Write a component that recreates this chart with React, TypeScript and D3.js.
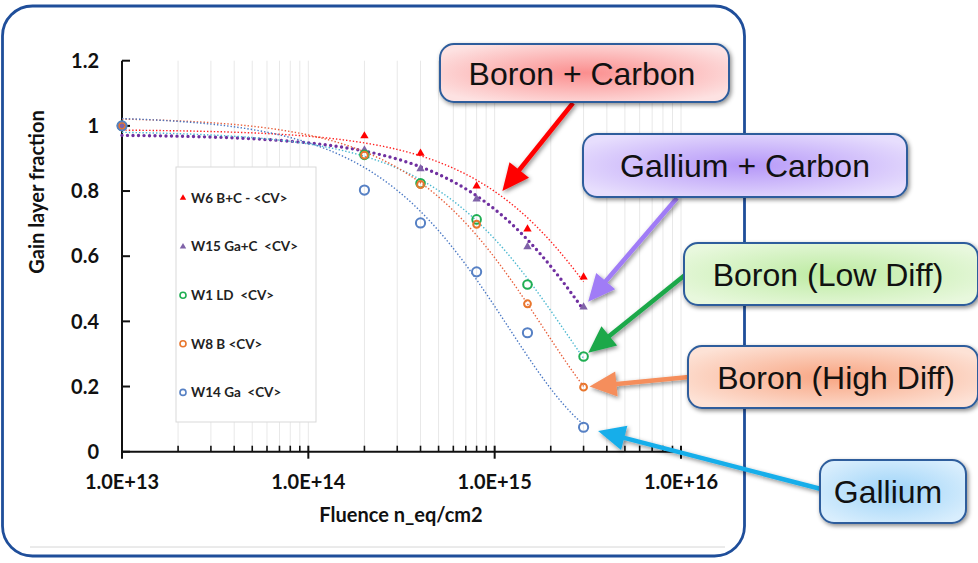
import React from "react";
import * as d3 from "d3";

// fluence points (n_eq/cm2)
const fluence = [1e13, 2e14, 4e14, 8e14, 1.5e15, 3e15];

const w6BC = [1.0, 0.969, 0.916, 0.815, 0.683, 0.536];
const w15GaC = [1.0, 0.926, 0.868, 0.775, 0.629, 0.444];
const w1LD = [1.0, 0.911, 0.824, 0.713, 0.513, 0.292];
const w8B = [1.0, 0.91, 0.82, 0.698, 0.454, 0.198];
const w14Ga = [1.0, 0.803, 0.702, 0.552, 0.365, 0.075];

const yTicks = [0, 0.2, 0.4, 0.6, 0.8, 1, 1.2];
const yTickLabels = ["0", "0.2", "0.4", "0.6", "0.8", "1", "1.2"];
const xMajor = [1e13, 1e14, 1e15, 1e16];
const xTickLabels = ["1.0E+13", "1.0E+14", "1.0E+15", "1.0E+16"];

const series = [
  { name: "W6 B+C - <CV>", values: w6BC, marker: "tri", color: "#ff0000", lineColor: "#ff2020", thick: false, r: 0 },
  { name: "W15 Ga+C  <CV>", values: w15GaC, marker: "tri", color: "#7f62a8", lineColor: "#7030a0", thick: true, r: 0 },
  { name: "W1 LD  <CV>", values: w1LD, marker: "circle", color: "#1fae52", lineColor: "#4bb8d0", thick: false, r: 4.3 },
  { name: "W8 B <CV>", values: w8B, marker: "circle", color: "#e8762d", lineColor: "#e8603c", thick: false, r: 3.4 },
  { name: "W14 Ga  <CV>", values: w14Ga, marker: "circle", color: "#5680c4", lineColor: "#4a78c4", thick: false, r: 4.6 },
];

// callouts: label, target (data coords), gap before target
const callouts = [
  { label: "Boron + Carbon", box: [440, 44, 289, 58], tx: 582, start: [573, 103], target: [1.1e15, 0.8], gap: 0, fill: ["#fb8e8e", "#fde2e2"], arrow: "#ff0000" },
  { label: "Gallium + Carbon", box: [583, 134, 324, 63], tx: 745, start: [677, 198], target: [3e15, w15GaC[5]], gap: 7, fill: ["#b597f8", "#e7defd"], arrow: "#a07cf6" },
  { label: "Boron (Low Diff)", box: [684, 243, 294, 62], tx: 828, start: [685, 275], target: [3e15, w1LD[5]], gap: 6, fill: ["#bdeba2", "#e8f8dd"], arrow: "#1aa84a" },
  { label: "Boron (High Diff)", box: [688, 346, 290, 62], tx: 836, start: [689, 377], target: [3e15, w8B[5]], gap: 6, fill: ["#f8a582", "#fde2d6"], arrow: "#f58e5c" },
  { label: "Gallium", box: [820, 460, 146, 63], tx: 888, start: [821, 489], target: [3e15, w14Ga[5]], gap: 15, fill: ["#9cd3f8", "#d9eefd"], arrow: "#19aeea" },
];

function expFit(xs: number[], ys: number[]) {
  const X = xs.map((x) => x / 1e15);
  const L = ys.map((y) => Math.log(y));
  const mx = d3.mean(X)!;
  const ml = d3.mean(L)!;
  const sxy = d3.sum(X, (x, i) => (x - mx) * (L[i] - ml));
  const sxx = d3.sum(X, (x) => (x - mx) * (x - mx));
  const b = sxy / sxx;
  const a = Math.exp(ml - b * mx);
  return (x: number) => a * Math.exp((b * x) / 1e15);
}

const FONT = "Lato, 'Open Sans', sans-serif";

export default function App() {
  const W = 978;
  const H = 563;
  const x = d3.scaleLog().domain([1e13, 1e16]).range([122, 681]);
  const y = d3.scaleLinear().domain([0, 1.2]).range([451.7, 60.7]);

  const minor: number[] = [];
  [1e13, 1e14, 1e15].forEach((d) => {
    for (let k = 2; k <= 9; k++) minor.push(d * k);
  });
  const grid = minor.concat([1e14, 1e15, 1e16]);

  const lx0 = Math.log10(fluence[0]);
  const lx1 = Math.log10(fluence[fluence.length - 1]);
  const samples = d3.range(0, 241).map((i) => Math.pow(10, lx0 + ((lx1 - lx0) * i) / 240));
  const line = d3
    .line<number[]>()
    .x((d) => x(d[0]))
    .y((d) => y(d[1]));

  const tri = d3.symbol(d3.symbolTriangle, 30)();
  const triSmall = d3.symbol(d3.symbolTriangle, 18)();

  const marker = (s: any, cx: number, cy: number, legend = false) => {
    if (s.marker === "tri") {
      return <path d={legend ? triSmall : tri} transform={`translate(${cx},${cy})`} fill={s.color} />;
    }
    return <circle cx={cx} cy={cy} r={legend ? 3 : s.r} fill="none" stroke={s.color} strokeWidth={legend ? 1.6 : 2} />;
  };

  return (
    <svg width={W} height={H} style={{ position: "fixed", left: 0, top: 0 }} fontFamily={FONT}>
      <defs>
        <filter id="sh" x="-20%" y="-20%" width="140%" height="150%">
          <feDropShadow dx="1.5" dy="2" stdDeviation="2.2" floodColor="#000" floodOpacity="0.45" />
        </filter>
        {callouts.map((c, i) => (
          <radialGradient key={i} id={`g${i}`} cx="50%" cy="50%" r="60%">
            <stop offset="0%" stopColor={c.fill[0]} />
            <stop offset="100%" stopColor={c.fill[1]} />
          </radialGradient>
        ))}
      </defs>
      <rect width={W} height={H} fill="#fff" />

      {/* outer frame */}
      <line x1={30} x2={725} y1={547} y2={547} stroke="#d6d6d6" strokeWidth={1} />
      <rect x={2.5} y={6} width={742} height={550} rx={30} fill="none" stroke="#1f4e9a" strokeWidth={2.8} />

      {/* gridlines */}
      {grid.map((g, i) => (
        <line key={i} x1={x(g)} x2={x(g)} y1={y(1.2)} y2={y(0)} stroke="#e8e8e8" strokeWidth={1} />
      ))}

      {/* legend */}
      <rect x={176} y={167} width={140} height={255} fill="#fff" stroke="#d9d9d9" strokeWidth={1} />
      {series.map((s, i) => {
        const ly = 198 + i * 48.6;
        return (
          <g key={i}>
            {marker(s, 183, ly, true)}
            <text x={191} y={ly} dy="0.36em" fontSize={13.5} fontWeight={700} fill="#222" style={{ whiteSpace: "pre" }}>
              {s.name}
            </text>
          </g>
        );
      })}

      {/* axes */}
      <line x1={x(1e13)} x2={x(1e13)} y1={y(1.2)} y2={y(0) + 6} stroke="#111" strokeWidth={2} />
      <line x1={x(1e13)} x2={x(1e16)} y1={y(0)} y2={y(0)} stroke="#111" strokeWidth={2} />
      {yTicks.map((t, i) => (
        <g key={i}>
          <line x1={x(1e13)} x2={x(1e13) + 8} y1={y(t)} y2={y(t)} stroke="#111" strokeWidth={2} />
          <text x={99} y={y(t)} dy="0.36em" textAnchor="end" fontSize={20} fontWeight={700} fill="#111">
            {yTickLabels[i]}
          </text>
        </g>
      ))}
      {minor.map((m, i) => (
        <line key={i} x1={x(m)} x2={x(m)} y1={y(0) - 6} y2={y(0)} stroke="#111" strokeWidth={1.6} />
      ))}
      {xMajor.map((m, i) => (
        <g key={i}>
          <line x1={x(m)} x2={x(m)} y1={y(0) - 6} y2={y(0) + 7} stroke="#111" strokeWidth={2} />
          <text x={x(m)} y={489} textAnchor="middle" fontSize={20} fontWeight={700} fill="#111">
            {xTickLabels[i]}
          </text>
        </g>
      ))}
      <text x={401} y={522} textAnchor="middle" fontSize={20} fontWeight={700} fill="#111">
        Fluence n_eq/cm2
      </text>
      <text transform="translate(44,192) rotate(-90)" textAnchor="middle" fontSize={20} fontWeight={700} fill="#111">
        Gain layer fraction
      </text>

      {/* trend lines */}
      {series.map((s, i) => {
        const f = expFit(fluence, s.values);
        return (
          <path
            key={i}
            d={line(samples.map((v) => [v, f(v)]))!}
            fill="none"
            stroke={s.lineColor}
            strokeWidth={s.thick ? 3.4 : 1.4}
            strokeDasharray={s.thick ? "0 5.5" : "1.4 2"}
            strokeLinecap={s.thick ? "round" : "butt"}
          />
        );
      })}

      {/* points */}
      {series.map((s, i) => (
        <g key={i}>{fluence.map((f, j) => <g key={j}>{marker(s, x(f), y(s.values[j]))}</g>)}</g>
      ))}

      {/* arrows */}
      {callouts.map((c, i) => {
        const tx0 = x(c.target[0]);
        const ty0 = y(c.target[1]);
        const [sx, sy] = c.start;
        const dx = tx0 - sx;
        const dy = ty0 - sy;
        const len = Math.hypot(dx, dy);
        const ux = dx / len;
        const uy = dy / len;
        const tx = tx0 - ux * c.gap;
        const ty = ty0 - uy * c.gap;
        const hl = 27;
        const hw = 12.5;
        const bx = tx - ux * hl;
        const by = ty - uy * hl;
        const head = [
          [tx, ty],
          [bx - uy * hw, by + ux * hw],
          [bx + uy * hw, by - ux * hw],
        ];
        return (
          <g key={i} filter="url(#sh)">
            <line x1={sx} y1={sy} x2={bx + ux * 2} y2={by + uy * 2} stroke={c.arrow} strokeWidth={4.5} />
            <polygon points={head.map((p) => p.join(",")).join(" ")} fill={c.arrow} />
          </g>
        );
      })}

      {/* callout boxes */}
      {callouts.map((c, i) => {
        const [bx, by, bw, bh] = c.box;
        return (
          <g key={i}>
            <rect x={bx} y={by} width={bw} height={bh} rx={14} fill={`url(#g${i})`} stroke="#2d5d9c" strokeWidth={2} filter="url(#sh)" />
            <text x={c.tx} y={by + bh / 2} dy="0.36em" textAnchor="middle" fontFamily="'Liberation Sans', Arial, sans-serif" fontSize={32} fill="#111">
              {c.label}
            </text>
          </g>
        );
      })}
    </svg>
  );
}
